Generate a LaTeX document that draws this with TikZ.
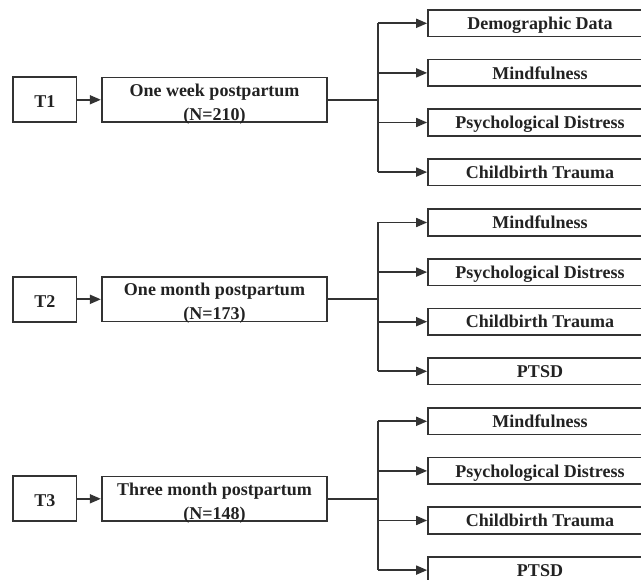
\documentclass[tikz,border=0pt]{standalone}
\usepackage{fontspec}
\setmainfont{Liberation Serif}
\usetikzlibrary{arrows.meta}
\definecolor{ln}{HTML}{333333}
\definecolor{tx}{HTML}{222222}
\begin{document}
\begin{tikzpicture}[x=1pt,y=-1pt,
  every node/.style={text=tx},
  boxbase/.style={draw=ln, line width=1.7pt, inner sep=0pt, fill=white},
  tbox/.style={boxbase, minimum width=63.4pt, minimum height=45pt},
  mbox/.style={boxbase, minimum width=225.6pt, minimum height=44.4pt},
  rbox/.style={boxbase, minimum width=224pt, minimum height=26.6pt,
    font=\fontsize{18}{23}\selectfont\bfseries, text height=12.3pt, text depth=0pt},
  ttext/.style={inner sep=0pt, font=\fontsize{18}{23}\selectfont\bfseries, text height=12pt, text depth=0pt},
  mtext/.style={inner sep=0pt, align=center, font=\fontsize{18}{24}\selectfont\bfseries},
  conn/.style={draw=ln, line width=1.7pt},
  arr/.style={conn, -{Triangle[length=11pt,width=9pt]}}]
\useasboundingbox (0,0) rectangle (641,580);
\fill[white] (0,0) rectangle (641,580);
\clip (0,0) rectangle (641,580);
\foreach \k/\lab/\main/\n in {0/T1/One week postpartum/210,
                              1/T2/One month postpartum/173,
                              2/T3/Three month postpartum/148} {
  \pgfmathsetmacro\cy{99.8+199.5*\k}
  \node[tbox] (t\k) at (44.9,\cy) {};
  \node[ttext] (tl\k) at (44.9,\cy+2) {\lab};
  \node[mbox] (m\k) at (214.5,\cy) {};
  \node[mtext] (ml\k) at (214.5,\cy+4) {\main\\(N=\n)};
  \draw[arr] (t\k.east) -- (m\k.west);
  \coordinate (j\k) at (378.3,\cy);
  \draw[conn] (m\k.east) -- (j\k);
}
% right boxes, group 1
\node[rbox] (r00) at (540,23.3) {Demographic Data};
\node[rbox] (r01) at (540,72.9) {Mindfulness};
\node[rbox] (r02) at (540,122.5) {Psychological Distress};
\node[rbox] (r03) at (540,172.1) {Childbirth Trauma};
% group 2
\node[rbox] (r10) at (540,222.5) {Mindfulness};
\node[rbox] (r11) at (540,272.1) {Psychological Distress};
\node[rbox] (r12) at (540,321.7) {Childbirth Trauma};
\node[rbox] (r13) at (540,371.3) {PTSD};
% group 3
\node[rbox] (r20) at (540,421.3) {Mindfulness};
\node[rbox] (r21) at (540,470.9) {Psychological Distress};
\node[rbox] (r22) at (540,520.5) {Childbirth Trauma};
\node[rbox] (r23) at (540,570.1) {PTSD};
\foreach \k in {0,1,2} {
  \draw[conn] (j\k |- r\k0.west) -- (j\k |- r\k3.west);
  \foreach \j in {0,1,2,3} {
    \draw[arr] (j\k |- r\k\j.west) -- (r\k\j.west);
  }
}
\end{tikzpicture}
\end{document}
